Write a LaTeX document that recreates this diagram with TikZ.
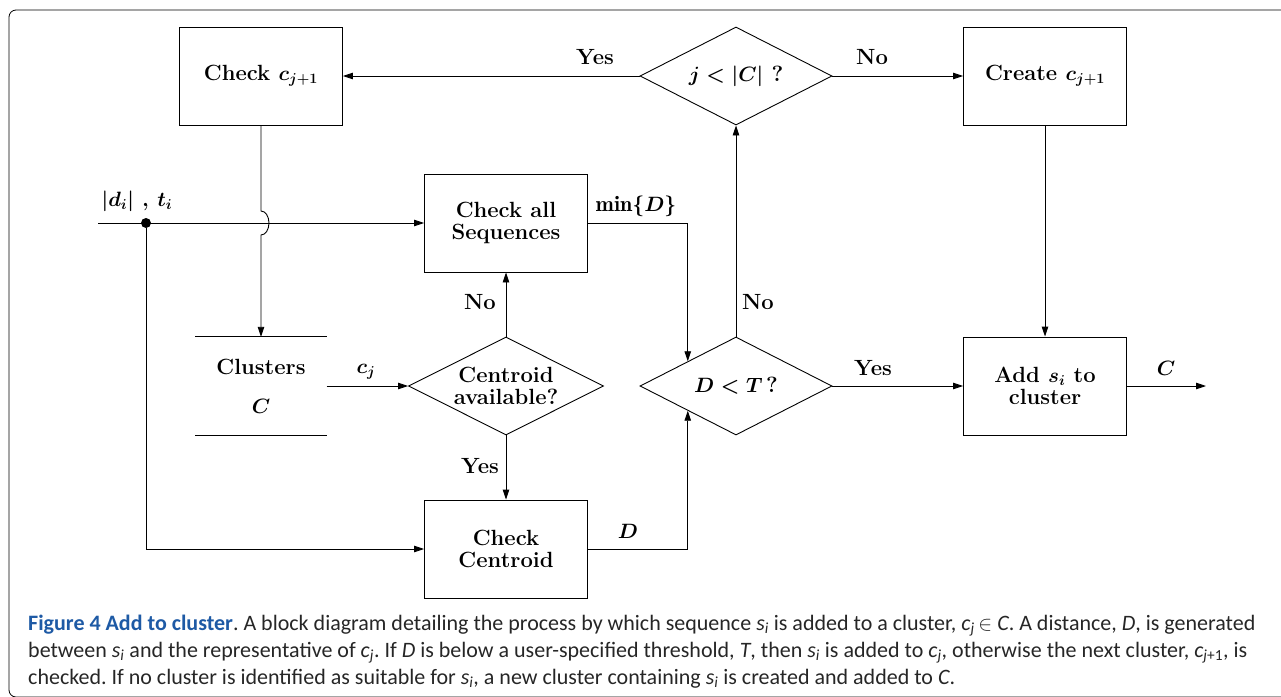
\documentclass[tikz,border=0pt]{standalone}
\usepackage{fontspec}
\usepackage{tikz}
\usetikzlibrary{shapes.geometric,arrows.meta}
\newfontfamily\capfont{Carlito}
\definecolor{figblue}{RGB}{30,90,165}
\newcommand{\cvar}[2]{\textit{#1}\textsubscript{\textit{#2}}}
\frenchspacing

\tikzset{
  txt/.style={font=\fontsize{22}{22}\selectfont\bfseries\boldmath},
  block/.style={txt, draw, line width=0.9pt, minimum width=163pt, minimum height=98pt, align=center, inner sep=0pt},
  decision/.style={txt, draw, diamond, line width=0.9pt, aspect=1.96, minimum width=192pt, minimum height=98pt, align=center, inner sep=0pt},
  lbl/.style={txt, anchor=base, inner sep=0pt},
  arr/.style={line width=0.9pt, -{Triangle[length=10pt,width=6.5pt]}},
  plain/.style={line width=0.9pt}
}

\begin{document}
\begin{tikzpicture}[x=1pt,y=-1pt]
\useasboundingbox (0,0) rectangle (1281,696);
\draw[rounded corners=7pt, line width=0.8pt] (9,10) rectangle (1300,697);

\node[block] (check) at (261,76) {Check $c_{j+1}$};
\node[decision] (jless) at (736,76) {$j<|C|$ ?};
\node[block] (create) at (1045,76) {Create $c_{j+1}$};
\node[block] (checkall) at (506,223) {Check all\\Sequences};
\node[txt, minimum width=131pt, minimum height=98pt, align=center, inner sep=0pt] (clusters) at (261,386) {Clusters\\[17pt]$C$};
\node[decision, minimum width=195pt] (centroid) at (506,386) {Centroid\\available?};
\node[decision] (dlesst) at (736,386) {$D<T$\,?};
\node[block] (add) at (1045,386) {Add $s_i$ to\\cluster};
\node[block] (checkcen) at (506,549) {Check\\Centroid};

\coordinate (input) at (98,223);
\coordinate (output) at (1206,386);
\node[circle, fill, inner sep=0pt, minimum size=10pt] (split) at (146,223) {};
\path (check.south |- split) ++(0,-12) coordinate (hop);

\draw[plain] (clusters.north west) -- (clusters.north east);
\draw[plain] (clusters.south west) -- (clusters.south east);

\draw[arr] (input) -- (checkall.west);
\draw[arr] (split) |- (checkcen.west);
\draw[arr] (check.south) -- (hop) arc[start angle=90, end angle=-90, x radius=8pt, y radius=12pt] -- (clusters.north);
\draw[arr] (jless.west) -- (check.east);
\draw[arr] (jless.east) -- (create.west);
\draw[arr] (create.south) -- (add.north);
\draw[arr] (dlesst.north) -- (jless.south);
\draw[arr] (dlesst.east) -- (add.west);
\draw[arr] (add.east) -- (output);
\draw[arr] (checkall.east) -| (dlesst.north west);
\draw[arr] (checkcen.east) -| (dlesst.south west);
\draw[arr] (clusters.east) -- (centroid.west);
\draw[arr] (centroid.north) -- (checkall.south);
\draw[arr] (centroid.south) -- (checkcen.north);

\node[lbl] (lin) at (137,206) {$|d_i|$ , $t_i$};
\node[lbl] (lyes1) at (595,64) {Yes};
\node[lbl] (lno1) at (872,64) {No};
\node[lbl] (lmin) at (636,211) {$\min\{D\}$};
\node[lbl] (lno2) at (758,309) {No};
\node[lbl] (lno3) at (480,309) {No};
\node[lbl] (lcj) at (366,373) {$c_j$};
\node[lbl] (lyes2) at (873,375) {Yes};
\node[lbl] (lc) at (1166,375) {$C$};
\node[lbl] (lyes3) at (480,473) {Yes};
\node[lbl] (ld) at (628,538) {$D$};

\begin{scope}[every node/.style={anchor=base west, inner sep=0pt, font=\capfont\fontsize{22}{27}\selectfont, text=black!85}]
\node (cap1) at (28,630) {\textcolor{figblue}{\textbf{Figure 4 Add to cluster}}. A block diagram detailing the process by which sequence \cvar{s}{i} is added to a cluster, \cvar{c}{j}\,$\in$ \textit{C}. A distance, \textit{D}, is generated};
\node (cap2) at (28,657) {between \cvar{s}{i} and the representative of \cvar{c}{j}. If \textit{D} is below a user-specified threshold, \textit{T}, then \cvar{s}{i} is added to \cvar{c}{j}, otherwise the next cluster, \textit{c}\textsubscript{\textit{j}+1}, is};
\node (cap3) at (28,684) {checked. If no cluster is identified as suitable for \cvar{s}{i}, a new cluster containing \cvar{s}{i} is created and added to \textit{C}.};
\end{scope}
\end{tikzpicture}
\end{document}
